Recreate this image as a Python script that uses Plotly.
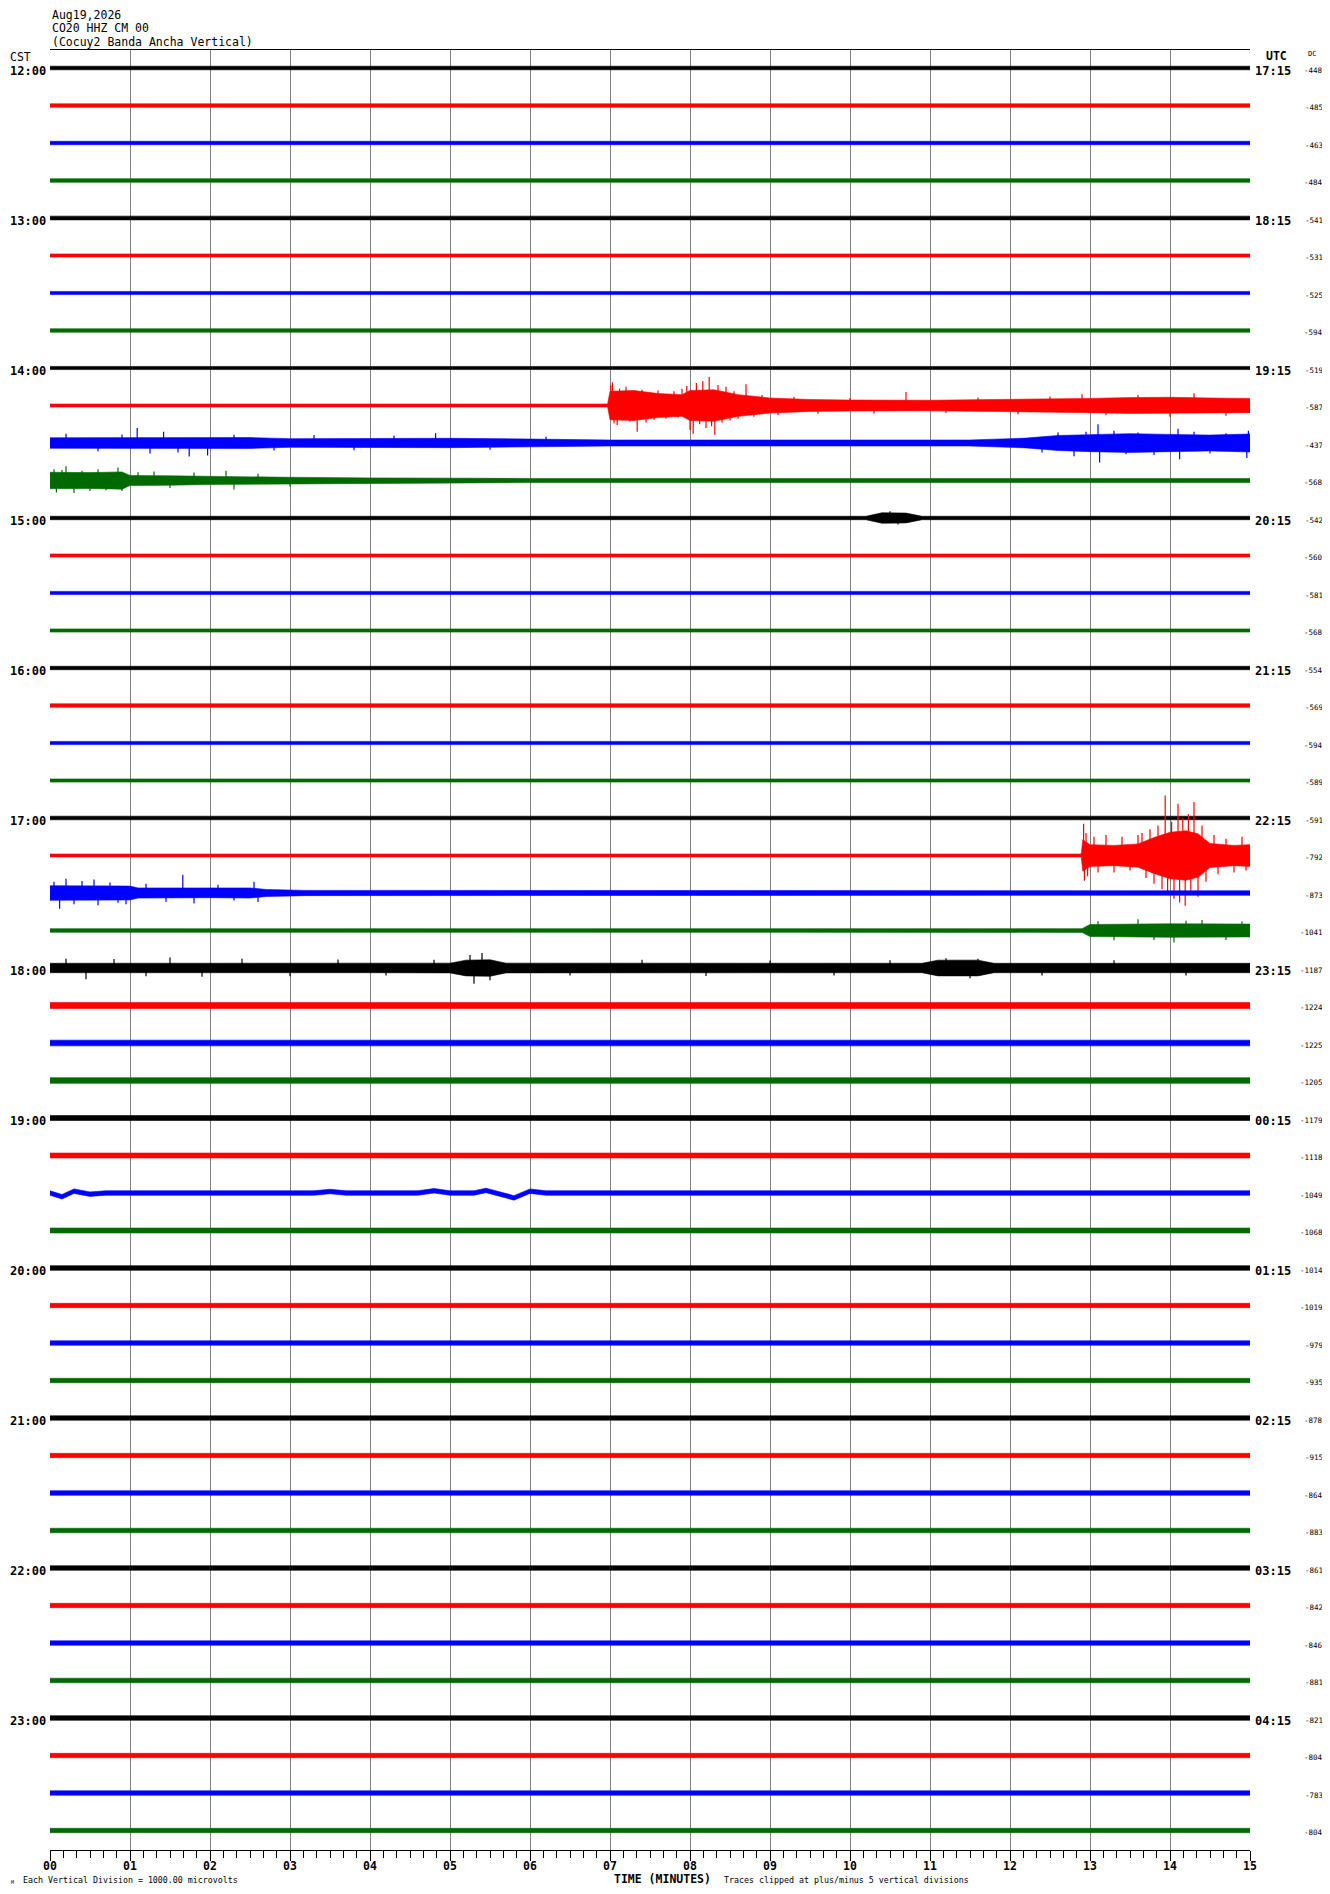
import plotly.graph_objects as go

# ---------------- data ----------------
minutes = list(range(16))
minute_labels = [f"{m:02d}" for m in minutes]
cst_hours = ["12:00", "13:00", "14:00", "15:00", "16:00", "17:00",
             "18:00", "19:00", "20:00", "21:00", "22:00", "23:00"]
utc_hours = ["17:15", "18:15", "19:15", "20:15", "21:15", "22:15",
             "23:15", "00:15", "01:15", "02:15", "03:15", "04:15"]
dc_offsets = [-448, -485, -463, -484, -541, -531, -525, -594,
              -519, -587, -437, -568, -542, -560, -581, -568,
              -554, -569, -594, -589, -591, -792, -873, -1041,
              -1187, -1224, -1225, -1205, -1179, -1118, -1049, -1068,
              -1014, -1019, -979, -935, -878, -915, -864, -883,
              -861, -842, -846, -881, -821, -804, -783, -804]
trace_colors = ["#000000", "#ff0000", "#0000ff", "#006a00"]

# typical half-width of the noise band of each line (microvolts)
base_noise_uv = [48, 46, 46, 48, 50, 42, 42, 46,
                 42, 36, 130, 46, 46, 42, 42, 42,
                 46, 46, 42, 42, 48, 36, 60, 48,
                 130, 80, 76, 76, 66, 66, 60, 66,
                 62, 58, 58, 58, 58, 58, 60, 60,
                 60, 58, 58, 60, 60, 58, 58, 58]

# envelopes (minute, half-width microvolts) of the lines with events
env_1415_t = [0, 6.97, 7.0, 7.3, 7.6, 7.9, 8.0, 8.3, 8.6, 9.0, 9.5, 10.0, 11.0, 12.0, 13.0, 13.5, 14.0, 14.5, 15.0]
env_1415_uv = [40, 40, 380, 400, 320, 290, 400, 420, 290, 200, 160, 145, 140, 160, 190, 210, 220, 200, 190]
spk_1415_t = [7.01, 7.03, 7.05, 7.09, 7.12, 7.15, 7.2, 7.25, 7.3, 7.34, 7.4, 7.45, 7.5, 7.55, 7.6,
              7.7, 7.8, 7.85, 7.9, 7.96, 8.0, 8.04, 8.08, 8.12, 8.16, 8.2, 8.24, 8.27, 8.31, 8.35,
              8.4, 8.45, 8.5, 8.55, 8.6, 8.7, 8.8, 8.9, 9.1, 9.3, 9.6, 10.0, 10.3, 10.7, 11.2,
              11.6, 12.1, 12.5, 12.9, 13.2, 13.6, 14.0, 14.3, 14.7]
spk_1415_uv = [550, 620, -480, -520, 450, -400, 500, -420, 380, -700, 420, -450, 350, -380, 400,
               -350, 380, -320, 450, 520, -650, -750, 600, -500, 650, -600, 760, -550, -780, 550,
               -450, 500, -400, 380, -350, 570, -300, 280, -250, 230, -220, 200, -220, 360, -200,
               210, -230, 240, 300, -260, 280, -300, 330, -270]

env_1430_t = [0, 2.5, 3.0, 5.0, 6.0, 7.0, 11.5, 12.2, 12.6, 13.0, 13.5, 14.0, 14.5, 15.0]
env_1430_uv = [140, 145, 115, 125, 105, 80, 80, 130, 200, 230, 250, 230, 210, 240]
spk_1430_t = [0.2, 0.6, 0.9, 1.09, 1.25, 1.42, 1.6, 1.74, 1.97, 2.3, 2.8, 3.3, 3.8, 4.3, 4.82,
              5.5, 6.2, 12.4, 12.6, 12.8, 12.95, 13.1, 13.12, 13.3, 13.45, 13.6, 13.8, 14.1,
              14.12, 14.3, 14.5, 14.7, 14.96, 14.98]
spk_1430_uv = [250, -220, 230, 400, -280, 300, -250, -360, -330, 220, -200, 210, -190, 200, 260,
               -180, 170, -250, 280, -350, 300, 500, -520, 330, -300, 280, -320, 380,
               -430, 300, -280, 260, -400, 330]

env_1445_t = [0, 0.5, 0.9, 1.0, 1.5, 2.0, 3.0, 4.0, 6.0, 15.0]
env_1445_uv = [220, 210, 230, 135, 125, 105, 85, 70, 55, 55]
spk_1445_t = [0.05, 0.08, 0.15, 0.2, 0.3, 0.4, 0.5, 0.6, 0.7, 0.85, 0.9, 1.1, 1.3, 1.5, 1.8,
              2.2, 2.3, 2.6, 3.0]
spk_1445_uv = [300, -320, 280, 380, -330, 260, -280, 300, -260, 350, -280, 220, 240, -200, 210,
               260, -240, 180, -160]

env_1500_t = [0, 10.2, 10.4, 10.7, 10.9, 15.0]
env_1500_uv = [46, 46, 140, 130, 46, 46]
spk_1500_t = [10.5, 10.6]
spk_1500_uv = [180, -170]

env_1715_t = [0, 12.89, 12.91, 13.0, 13.3, 13.6, 13.8, 14.0, 14.2, 14.35, 14.5, 14.8, 15.0]
env_1715_uv = [40, 40, 420, 290, 270, 310, 480, 620, 660, 580, 320, 270, 290]
spk_1715_t = [12.92, 12.93, 12.95, 12.97, 13.05, 13.1, 13.2, 13.3, 13.4, 13.5, 13.6, 13.65,
              13.7, 13.75, 13.8, 13.85, 13.9, 13.94, 13.97, 14.02, 14.05, 14.1, 14.12, 14.16,
              14.19, 14.23, 14.26, 14.3, 14.35, 14.4, 14.45, 14.55, 14.6, 14.7, 14.8, 14.9, 14.95]
spk_1715_uv = [850, -670, 600, -550, 500, -450, 550, -450, 500, -400, 550, 600,
               -600, 700, -750, 800, -900, 1600, -1000, 900, -1150, 1380, -1250, 1000,
               -1340, 1100, -950, 1430, -1100, 800, -700, 550, -500, 450, -450, 500, -400]

env_1730_t = [0, 1.0, 1.1, 2.0, 2.5, 2.7, 3.2, 15.0]
env_1730_uv = [195, 185, 135, 125, 135, 95, 70, 60]
spk_1730_t = [0.05, 0.12, 0.2, 0.3, 0.4, 0.55, 0.6, 0.75, 0.85, 0.95, 1.2, 1.45, 1.66, 1.8,
              2.1, 2.3, 2.55, 2.6]
spk_1730_uv = [300, -420, 380, -300, 320, 360, -330, 280, -260, -300, 250, -230, 490, -280,
               220, -200, 300, -240]

env_1745_t = [0, 12.9, 13.0, 14.0, 15.0]
env_1745_uv = [48, 50, 160, 180, 170]
spk_1745_t = [13.1, 13.3, 13.6, 13.8, 14.05, 14.2, 14.4, 14.7, 14.9]
spk_1745_uv = [250, -260, 300, -250, -320, 260, 280, -250, 240]

env_1800_t = [0, 4.0, 5.0, 5.2, 5.5, 5.7, 10.9, 11.1, 11.6, 11.8, 15.0]
env_1800_uv = [125, 125, 130, 210, 220, 130, 125, 210, 210, 125, 125]
spk_1800_t = [0.2, 0.45, 0.8, 1.2, 1.5, 1.9, 2.4, 3.0, 3.6, 4.2, 4.8, 5.25, 5.3, 5.4, 5.5,
              6.5, 7.4, 8.2, 9.0, 9.8, 10.5, 11.2, 11.5, 11.6, 12.4, 13.3, 14.2]
spk_1800_uv = [250, -300, 240, -220, 280, -230, 250, -220, 230, -200, 220, 350, -420, 400, -330,
               -200, 220, -210, 200, -200, 210, 260, -270, 250, -200, 210, -200]

# slow wander of the 19:30 line (minute, offset microvolts)
wander_1930_t = [0, 0.15, 0.3, 0.5, 0.7, 3.3, 3.5, 3.7, 4.6, 4.8, 5.0, 5.3, 5.45, 5.6, 5.8, 6.0, 6.2, 15.0]
wander_1930_uv = [0, -100, 50, -30, 0, 0, 40, 0, 0, 60, 0, 0, 70, -20, -130, 50, 0, 0]

# ---------------- build figure ----------------
envelopes = {9: (env_1415_t, env_1415_uv), 10: (env_1430_t, env_1430_uv),
             11: (env_1445_t, env_1445_uv), 12: (env_1500_t, env_1500_uv),
             21: (env_1715_t, env_1715_uv), 22: (env_1730_t, env_1730_uv),
             23: (env_1745_t, env_1745_uv), 24: (env_1800_t, env_1800_uv)}
spikes = {9: (spk_1415_t, spk_1415_uv), 10: (spk_1430_t, spk_1430_uv),
          11: (spk_1445_t, spk_1445_uv), 12: (spk_1500_t, spk_1500_uv),
          21: (spk_1715_t, spk_1715_uv),
          22: (spk_1730_t, spk_1730_uv), 23: (spk_1745_t, spk_1745_uv),
          24: (spk_1800_t, spk_1800_uv)}
wanders = {30: (wander_1930_t, wander_1930_uv)}

UV_PER_DIV = 1000.0
fig = go.Figure()
n = len(dc_offsets)
for i in range(n):
    color = trace_colors[i % 4]
    c = -i
    if i in envelopes:
        t, a = envelopes[i]
        w = [0] * len(t)
    elif i in wanders:
        t, w = wanders[i]
        a = [base_noise_uv[i]] * len(t)
    else:
        t = [minutes[0], minutes[-1]]
        a = [base_noise_uv[i]] * 2
        w = [0, 0]
    up = [c + (wi + ai) / UV_PER_DIV for ai, wi in zip(a, w)]
    lo = [c + (wi - ai) / UV_PER_DIV for ai, wi in zip(a, w)]
    fig.add_trace(go.Scatter(x=list(t) + list(t)[::-1], y=up + lo[::-1],
                             fill="toself", fillcolor=color, mode="lines",
                             line=dict(color=color, width=0.6),
                             hoverinfo="skip"))
    if i in spikes:
        st, sv = spikes[i]
        xs, ys = [], []
        for tt, vv in zip(st, sv):
            xs += [tt, tt, None]
            ys += [c, c + vv / UV_PER_DIV, None]
        fig.add_trace(go.Scatter(x=xs, y=ys, mode="lines",
                                 line=dict(color=color, width=1.2),
                                 hoverinfo="skip"))

mono = "DejaVu Sans Mono"
ann = []
# header
for txt, yy in [("Aug19,2026", 1.0194), ("CO20 HHZ CM 00", 1.0125),
                ("(Cocuy2 Banda Ancha Vertical)", 1.0044)]:
    ann.append(dict(text=txt, x=0, y=yy, xref="paper", yref="paper",
                    xanchor="left", yanchor="middle", showarrow=False,
                    font=dict(family=mono, size=11.5, color="black")))
ann.append(dict(text="CST", x=-0.035, y=0.9961, xref="paper", yref="paper",
                xanchor="left", yanchor="middle", showarrow=False,
                font=dict(family=mono, size=11.5, color="black")))
ann.append(dict(text="<b>UTC</b>", x=1.0117, y=0.99667, xref="paper", yref="paper",
                xanchor="left", yanchor="middle", showarrow=False,
                font=dict(family=mono, size=11.5, color="black")))
ann.append(dict(text="DC", x=1.0467, y=0.99778, xref="paper", yref="paper",
                xanchor="left", yanchor="middle", showarrow=False,
                font=dict(family=mono, size=7, color="black")))
for k in range(len(cst_hours)):
    yv = -4 * k
    ann.append(dict(text=f"<b>{cst_hours[k]}</b>", x=0, y=yv, xref="paper", yref="y",
                    xanchor="right", yanchor="middle", xshift=-2, yshift=-3,
                    showarrow=False, font=dict(family=mono, size=12, color="black")))
    ann.append(dict(text=f"<b>{utc_hours[k]}</b>", x=1, y=yv, xref="paper", yref="y",
                    xanchor="left", yanchor="middle", xshift=3, yshift=-3,
                    showarrow=False, font=dict(family=mono, size=12, color="black")))
for i, dc in enumerate(dc_offsets):
    ann.append(dict(text=str(dc), x=1.0625, y=-i, xref="paper", yref="y",
                    xanchor="right", yanchor="middle", yshift=-2, showarrow=False,
                    font=dict(family=mono, size=7.5, color="black")))
# bottom notes
ann.append(dict(text="<b>TIME (MINUTES)</b>", x=0.51, y=-0.0161, xref="paper", yref="paper",
                xanchor="center", yanchor="middle", showarrow=False,
                font=dict(family=mono, size=11.5, color="black")))
ann.append(dict(text="Traces clipped at plus/minus 5 vertical divisions", x=0.56, y=-0.0167,
                xref="paper", yref="paper", xanchor="left", yanchor="middle", showarrow=False,
                font=dict(family=mono, size=8.3, color="black")))
ann.append(dict(text="Each Vertical Division = 1000.00 microvolts", x=-0.0242, y=-0.0167,
                xref="paper", yref="paper", xanchor="left", yanchor="middle", showarrow=False,
                font=dict(family=mono, size=8.3, color="black")))
ann.append(dict(text="M", x=-0.034, y=-0.0175, xref="paper", yref="paper",
                xanchor="left", yanchor="middle", showarrow=False,
                font=dict(family=mono, size=5, color="black")))

# the page body has an 8 px margin, so the figure is 8 px smaller and margins shifted
fig.update_layout(
    width=1322, height=1886,
    margin=dict(l=42, r=80, t=42, b=44),
    paper_bgcolor="white", plot_bgcolor="white",
    showlegend=False, annotations=ann,
    xaxis=dict(range=[0, 15], tickvals=minutes, ticktext=minute_labels,
               showgrid=True, gridcolor="#808080", gridwidth=1,
               ticks="outside", ticklen=10, tickwidth=1, tickcolor="black",
               ticklabelstandoff=-5,
               showline=True, linecolor="black", linewidth=1, mirror=True,
               zeroline=False,
               tickfont=dict(family=mono, size=11.5, color="black", weight="bold"),
               minor=dict(dtick=1 / 6, tick0=0, ticks="outside", ticklen=7,
                          tickcolor="black", tickwidth=1, showgrid=False)),
    yaxis=dict(range=[-(n - 1) - 0.52, 0.48], showgrid=False, zeroline=False,
               showticklabels=False, showline=False, ticks=""),
)
fig.write_html("out.html")
